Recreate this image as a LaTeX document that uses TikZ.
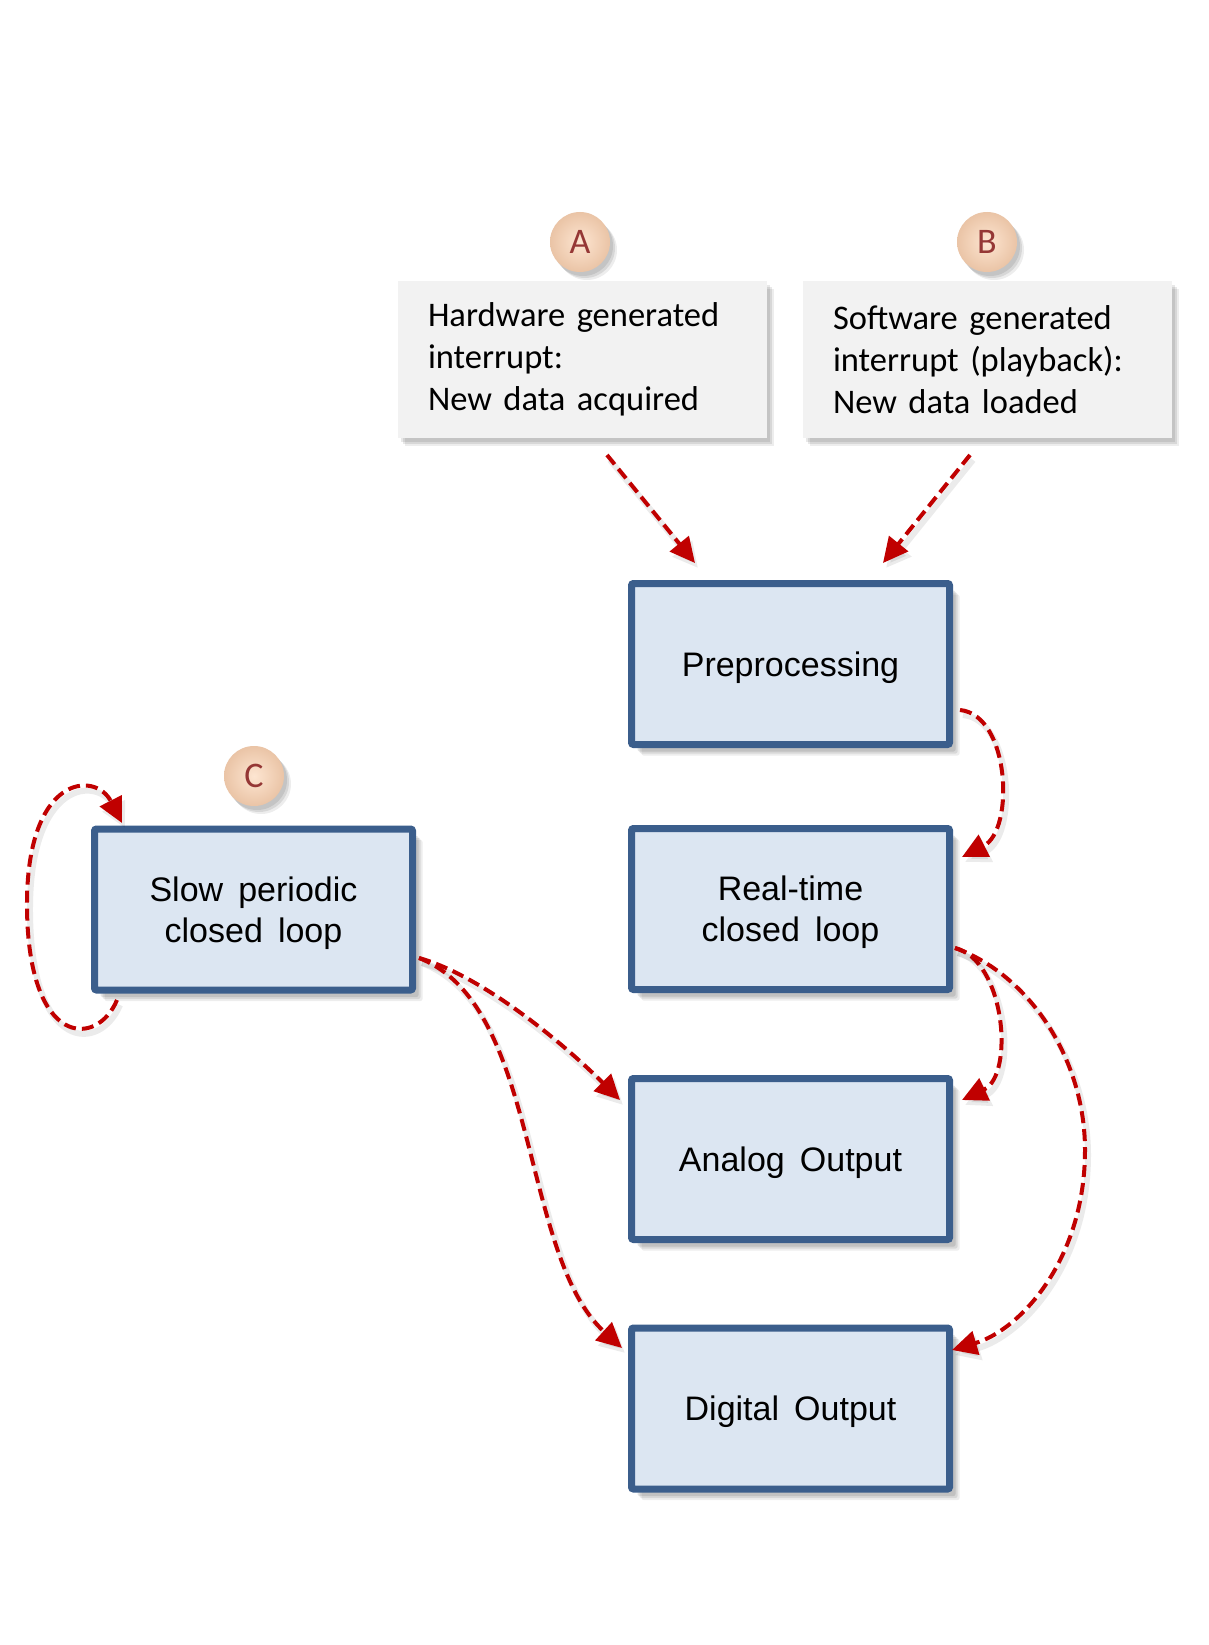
\documentclass[tikz,border=0pt]{standalone}
\usepackage{fontspec}
\setmainfont{Carlito}
\newfontfamily\boxfont[WordSpace=1.6]{Liberation Sans}
\usetikzlibrary{shadows,arrows.meta,calc}
\definecolor{boxfill}{HTML}{DCE6F2}
\definecolor{boxline}{HTML}{3B5E8C}
\definecolor{notefill}{HTML}{F2F2F2}
\definecolor{arrred}{HTML}{C00000}
\definecolor{lettercol}{HTML}{953735}
\definecolor{peachin}{HTML}{FDE5D1}
\definecolor{peachout}{HTML}{EAC4A6}
\begin{document}
\begin{tikzpicture}[x=1pt,y=-1pt,
 softshadow/.style={
  general shadow={fill=black,opacity=0.09,shadow xshift=3pt,shadow yshift=-4pt},
  general shadow={fill=black,opacity=0.09,shadow xshift=5pt,shadow yshift=-6pt},
  general shadow={fill=black,opacity=0.07,shadow xshift=7pt,shadow yshift=-8pt}},
 boxshadow/.style={
  general shadow={fill=black,opacity=0.10,shadow xshift=6pt,shadow yshift=-7pt},
  general shadow={fill=black,opacity=0.09,shadow xshift=8pt,shadow yshift=-9pt},
  general shadow={fill=black,opacity=0.07,shadow xshift=10pt,shadow yshift=-11pt}},
 procbox/.style={draw=boxline,fill=boxfill,line width=7pt,rounded corners=2pt,
  minimum width=318pt,minimum height=161pt,inner sep=0pt,align=center,text depth=0pt,
  font=\boxfont\fontsize{34}{41}\selectfont,boxshadow},
 notebox/.style={fill=notefill,minimum height=157pt,text width=309pt,inner xsep=30pt,
  inner ysep=0pt,align=left,font=\fontsize{34.5}{42}\selectfont,softshadow},
 badge/.style={circle,inner sep=0pt,minimum size=60pt,inner color=peachin,outer color=peachout,
  text=lettercol,font=\fontsize{36}{36}\selectfont,softshadow},
 flow/.style={draw=arrred,line width=4pt,dash pattern=on 12pt off 6pt,
  -{Triangle[length=25pt,width=24pt]},
  preaction={draw=black,opacity=0.08,line width=6pt,transform canvas={shift={(3pt,-5pt)}}}}
]
\fill[white] (0,0) rectangle (1209,1645);
\useasboundingbox (0,0) rectangle (1209,1645);

% note boxes and badges
\node[notebox] (nA) at (582.5,359.5) {Hardware generated\\interrupt:\\New data acquired};
\node[notebox] (nB) at (987.5,359.5) {Software generated\\interrupt (playback):\\New data loaded};
\node[badge] (bA) at (580,242) {A};
\node[badge] (bB) at (987,242) {B};

% process boxes
\node[procbox] (pre) at (790.5,664) {Preprocessing};
\node[procbox] (rt) at (790.5,909) {Real-time\\closed loop};
\node[procbox] (ao) at (790.5,1159) {Analog Output};
\node[procbox] (dout) at (790.5,1408.5) {Digital Output};
\node[procbox] (sl) at (253.5,909.5) {Slow periodic\\closed loop};
\node[badge] (bC) at (254,776) {C};

% connector end points
\coordinate (a1) at (607,455);
\coordinate (a2) at (695,563);
\coordinate (b1) at (970,455);
\coordinate (b2) at (883,563);
\coordinate (p1) at (960,710);
\coordinate (p2) at (962,857);
\coordinate (r1) at (955,948);
\coordinate (r2) at (962,1100);
\coordinate (r3) at (1085,1150);
\coordinate (r4) at (952,1350);
\coordinate (s1) at (419,958);
\coordinate (s2) at (620,1100);
\coordinate (s3) at (622,1348);
\coordinate (l1) at (117,1000);
\coordinate (l2) at (27,907);
\coordinate (l3) at (122,823);

% connectors
\draw[flow] (a1) -- (a2);
\draw[flow] (b1) -- (b2);
\draw[flow] (p1) .. controls (1010,715) and (1015,830) .. (p2);
\draw[flow] (r1) .. controls (1005,960) and (1015,1075) .. (r2);
\draw[flow] (r1) .. controls (1030,975) and (1085,1060) .. (r3)
  .. controls (1085,1260) and (1020,1330) .. (r4);
\draw[flow] (s1) .. controls (480,975) and (560,1040) .. (s2);
\draw[flow] (s1) .. controls (540,1005) and (520,1255) .. (s3);
\draw[flow] (l1) .. controls (97,1048) and (28,1048) .. (l2)
  .. controls (26,775) and (95,770) .. (l3);
\end{tikzpicture}
\end{document}
